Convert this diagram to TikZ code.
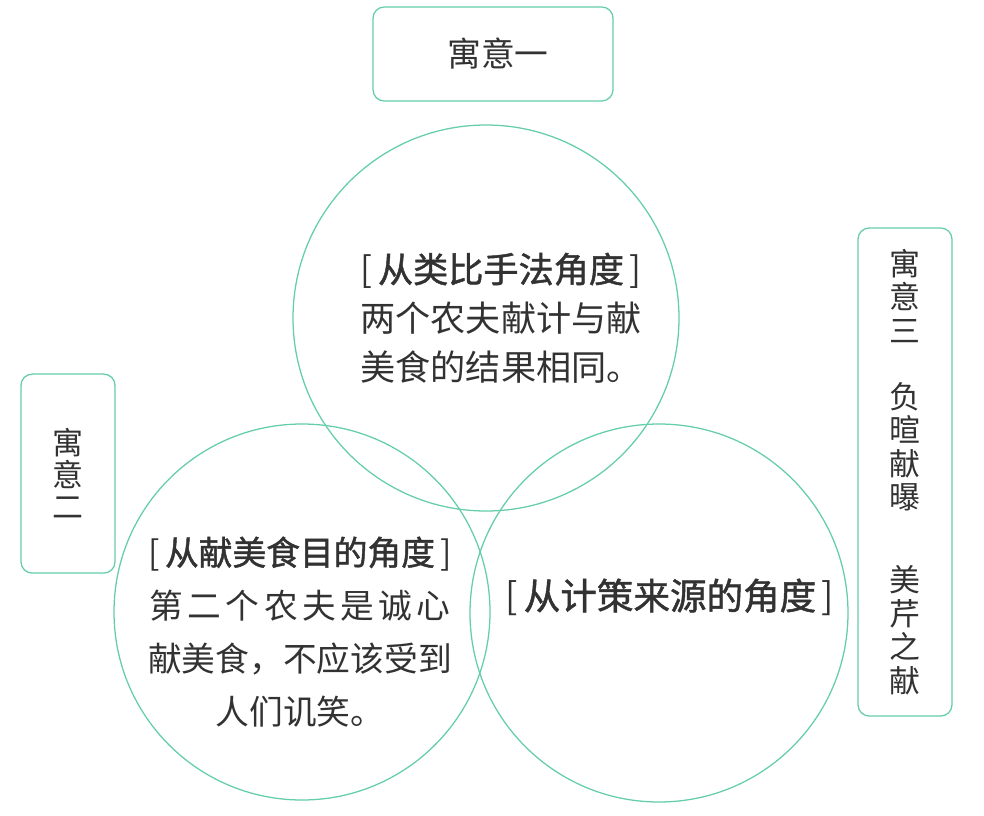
\documentclass[tikz,border=0pt]{standalone}
\usepackage{fontspec}
\setmainfont{Noto Sans CJK SC}
\newfontfamily\headfont{Noto Sans CJK SC}[FakeBold=1.3]
\usepackage{xcolor}
\usepackage{tikz}
\usetikzlibrary{positioning}

\definecolor{ringgreen}{RGB}{100,205,170}
\definecolor{inkgray}{RGB}{50,50,50}
\newcommand{\bk}[1]{[\hspace{0.15em}{\headfont #1}\hspace{0.15em}]}
\newcommand{\gp}{\hspace{0.13em}}

\begin{document}
\begin{tikzpicture}[
        ring/.style={draw=ringgreen, line width=0.9pt, circle, inner sep=0pt},
        labelbox/.style={draw=ringgreen, line width=0.9pt, rounded corners=8pt, rectangle, inner sep=0pt, text=inkgray, align=center},
        body/.style={text=inkgray, align=center, inner sep=0pt}
    ]
    \useasboundingbox (0,0) rectangle (24.6,-20.375);

    % --- Circles ---
    \node[ring, minimum size=9.65cm] (ctop) at (12.15,-7.95) {};
    \node[ring, minimum size=9.4cm] (cleft) at (7.55,-15.3) {};
    \node[ring, minimum size=9.45cm] (cright) at (16.475,-15.325) {};

    % --- Label boxes ---
    \node[labelbox, minimum width=6cm, minimum height=2.35cm, font=\fontsize{24}{28}\selectfont] (yiyi) at (12.325,-1.35) {\hspace{0.25cm}寓意一};
    \node[labelbox, minimum width=2.35cm, minimum height=4.975cm, font=\fontsize{22}{22.7}\selectfont] (yier) at (1.7,-11.84) {寓\\意\\二};
    \node[labelbox, minimum width=2.35cm, minimum height=12.2cm, font=\fontsize{22}{23.8}\selectfont] (yisan) at (22.625,-11.8)
        {寓\\意\\三\\[0.81cm]负\\暄\\献\\曝\\[1.24cm]美\\芹\\之\\献};

    % --- Circle texts ---
    \node[body, font=\fontsize{25}{34.8}\selectfont] (ttop) at (12.525,-7.95)
        {\bk{从类比手法角度}\\两个农夫献计与献\\美食的结果相同。};
    \node[body, font=\fontsize{24}{37.8}\selectfont] (tleft) at (7.5,-15.8)
        {\bk{从献美食目的角度}\\第\gp 二\gp 个\gp 农\gp 夫\gp 是\gp 诚\gp 心\\献美食，不应该受到\\人们讥笑。};
    \node[body, font=\fontsize{26}{30}\selectfont] (tright) at (16.75,-14.93)
        {\bk{从计策来源的角度}};

\end{tikzpicture}
\end{document}
